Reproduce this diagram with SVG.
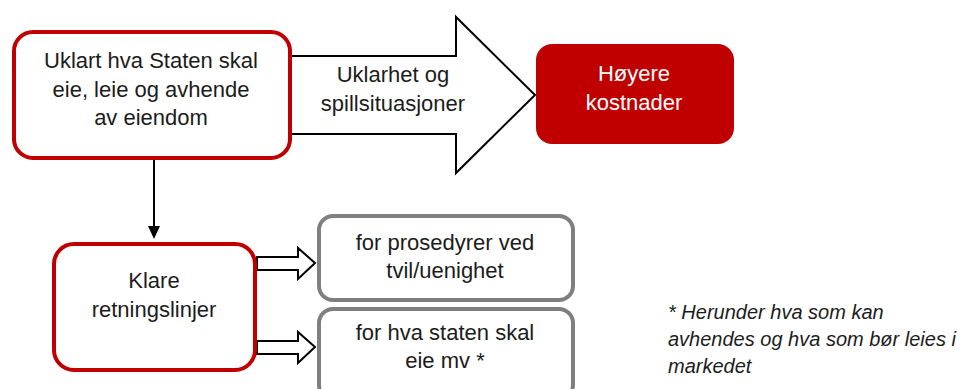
<svg xmlns="http://www.w3.org/2000/svg" width="962" height="389" viewBox="0 0 962 389">
  <defs>
    <style>
      .lbl { font-family: "Liberation Sans", Arial, sans-serif; font-size: 22px; fill: #1c1c1c; text-anchor: middle; }
      .lbl-w { fill: #ffffff; }
      .note { font-family: "Liberation Sans", Arial, sans-serif; font-size: 20px; font-style: italic; fill: #1c1c1c; }
      .red-box { fill: #ffffff; stroke: #c00000; stroke-width: 4; }
      .grey-box { fill: #ffffff; stroke: #7f7f7f; stroke-width: 4; }
      .block-arrow { fill: #ffffff; stroke: #000000; stroke-width: 2; stroke-linejoin: miter; }
      .line { stroke: #000000; stroke-width: 2; fill: none; }
    </style>
  </defs>

  <!-- connectors -->
  <g id="connectors">
    <!-- large block arrow to cost box -->
    <polygon class="block-arrow" points="290,56 456,56 456,17 535,95 456,173 456,134 290,134"/>
    <!-- down arrow to guidelines -->
    <line class="line" x1="154" y1="159" x2="154" y2="227"/>
    <polygon points="148,226 160,226 154,239" fill="#000000"/>
    <!-- small block arrows to the two grey boxes -->
    <polygon class="block-arrow" points="257,257 298,257 298,248 315,263 298,279 298,270 257,270"/>
    <polygon class="block-arrow" points="257,341 298,341 298,332 315,347 298,363 298,354 257,354"/>
  </g>

  <!-- unclear ownership -->
  <g id="node-uklart">
    <rect class="red-box" x="14" y="32" width="276" height="126" rx="19"/>
    <text class="lbl" x="151" y="68">Uklart hva Staten skal</text>
    <text class="lbl" x="151" y="97">eie, leie og avhende</text>
    <text class="lbl" x="151" y="125">av eiendom</text>
  </g>

  <!-- arrow label -->
  <g id="label-uklarhet">
    <text class="lbl" x="393" y="82">Uklarhet og</text>
    <text class="lbl" x="393" y="111">spillsituasjoner</text>
  </g>

  <!-- higher costs -->
  <g id="node-kostnader">
    <rect x="536" y="44" width="198" height="100" rx="16" fill="#c00000"/>
    <text class="lbl lbl-w" x="634" y="81">Høyere</text>
    <text class="lbl lbl-w" x="634" y="110">kostnader</text>
  </g>

  <!-- clear guidelines -->
  <g id="node-klare">
    <rect class="red-box" x="54" y="244" width="201" height="126" rx="20"/>
    <text class="lbl" x="154" y="288">Klare</text>
    <text class="lbl" x="154" y="317">retningslinjer</text>
  </g>

  <g id="node-prosedyrer">
    <rect class="grey-box" x="319" y="216" width="254" height="84" rx="14"/>
    <text class="lbl" x="445" y="250">for prosedyrer ved</text>
    <text class="lbl" x="445" y="278">tvil/uenighet</text>
  </g>

  <g id="node-eie">
    <rect class="grey-box" x="319" y="309" width="254" height="90" rx="14"/>
    <text class="lbl" x="445" y="340">for hva staten skal</text>
    <text class="lbl" x="445" y="368">eie mv *</text>
  </g>

  <!-- footnote -->
  <g id="footnote">
    <text class="note" x="668" y="319">* Herunder hva som kan</text>
    <text class="note" x="668" y="346">avhendes og hva som bør leies i</text>
    <text class="note" x="668" y="373">markedet</text>
  </g>
</svg>
